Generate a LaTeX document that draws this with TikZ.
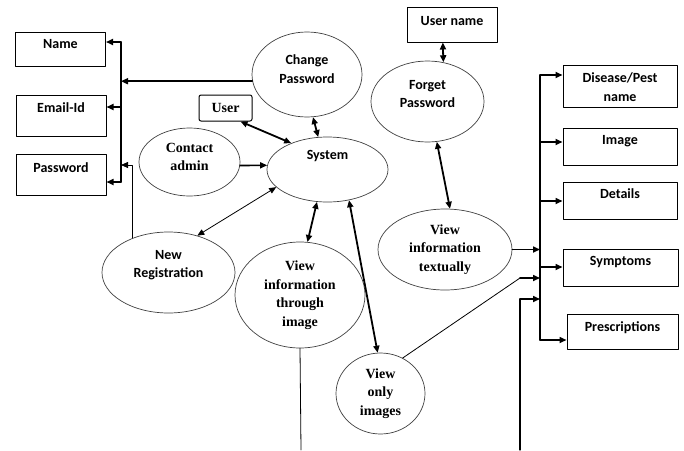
\documentclass[tikz,border=0pt]{standalone}
\usepackage{fontspec}
\usepackage{tikz}
\setmainfont{Liberation Serif}
\setsansfont{Carlito}
\usetikzlibrary{calc}
\usetikzlibrary{arrows.meta}
\usetikzlibrary{positioning}
\usetikzlibrary{shapes.geometric}
\definecolor{edgegray}{rgb}{0.25,0.25,0.25}
\tikzset{
  box/.style={draw,line width=1pt,inner sep=0pt},
  proc/.style={ellipse,draw=edgegray,line width=0.7pt,inner sep=0pt},
  btxt/.style={font=\sffamily\bfseries\fontsize{14}{18.5}\selectfont,inner sep=0pt,align=center},
  stxt/.style={font=\rmfamily\bfseries\fontsize{14}{18.5}\selectfont,inner sep=0pt,align=center},
  wire/.style={line width=0.8pt},
  bus/.style={line width=1.2pt},
  arr/.style={->,line width=1.6pt},
  darr/.style={<->,line width=1.8pt},
  tarr/.style={<->,line width=0.8pt},
}

\begin{document}
\begin{tikzpicture}[line cap=round,line join=round,>={Triangle[length=7pt,width=6pt]},x=1pt,y=-1pt]
            \useasboundingbox (0,0) rectangle (684,450);
            % fields on the left
            \node[box,minimum width=90pt,minimum height=34pt] (name) at (60.5,49) {};
            \node[btxt,below=8pt of name.north] (name-t) {Name};
            \node[box,minimum width=90pt,minimum height=41pt] (email) at (61,115.5) {};
            \node[btxt,below=8pt of email.north] (email-t) {Email-Id};
            \node[box,minimum width=90pt,minimum height=41pt] (pass) at (61,174.5) {};
            \node[btxt,below=9pt of pass.north] (pass-t) {Password};
            \node[box,rounded corners=2pt,minimum width=53pt,minimum height=26pt] (user) at (225.5,108) {};
            \node[stxt] (user-t) at (user) {User};
            \node[box,minimum width=90pt,minimum height=35pt] (uname) at (452,24.5) {};
            \node[btxt,below=10pt of uname.north] (uname-t) {User name};
            % processes
            \node[proc,minimum width=110pt,minimum height=85pt] (chpw) at (307,74.5) {};
            \node[btxt] (chpw-t) at ([yshift=5.5pt]chpw) {Change\\Password};
            \node[proc,minimum width=121pt,minimum height=65pt] (sys) at (327.5,169.5) {};
            \node[btxt] (sys-t) at ([yshift=13pt]sys) {System};
            \node[proc,minimum width=101pt,minimum height=68pt] (contact) at (189.5,162) {};
            \node[stxt] (contact-t) at ([yshift=5pt]contact) {Contact\\admin};
            \node[proc,minimum width=133pt,minimum height=81pt] (newreg) at (168.5,272.5) {};
            \node[btxt] (newreg-t) at ([yshift=7.5pt]newreg) {New\\Registration};
            \node[proc,minimum width=130pt,minimum height=106pt] (vimg) at (300,295) {};
            \node[stxt] (vimg-t) at (vimg) {View\\information\\through\\image};
            \node[proc,minimum width=89pt,minimum height=81pt] (vonly) at (380.5,393.5) {};
            \node[stxt] (vonly-t) at (vonly) {View\\only\\images};
            \node[proc,minimum width=113pt,minimum height=81pt] (fpw) at (427.5,101.5) {};
            \node[btxt] (fpw-t) at ([yshift=7.5pt]fpw) {Forget\\Password};
            \node[proc,minimum width=134pt,minimum height=81pt] (vtext) at (445,249.5) {};
            \node[stxt] (vtext-t) at (vtext) {View\\information\\textually};
            % outputs on the right
            \node[box,minimum width=114pt,minimum height=42pt] (dis) at (620,86) {};
            \node[btxt] (dis-t) at ([yshift=-1pt]dis) {Disease/Pest\\name};
            \node[box,minimum width=114pt,minimum height=37pt] (img) at (620,146.5) {};
            \node[btxt,below=8pt of img.north] (img-t) {Image};
            \node[box,minimum width=114pt,minimum height=37pt] (det) at (620,200.5) {};
            \node[btxt,below=7pt of det.north] (det-t) {Details};
            \node[box,minimum width=115pt,minimum height=37pt] (sym) at (620.5,267.5) {};
            \node[btxt,below=8pt of sym.north] (sym-t) {Symptoms};
            \node[box,minimum width=111pt,minimum height=35pt] (pre) at (622.5,331.5) {};
            \node[btxt,below=8pt of pre.north] (pre-t) {Prescriptions};
            % bus points
            \coordinate (lbus-top) at (121,42);
            \coordinate (lbus-em) at (121,107);
            \coordinate (lbus-nr) at (121,165);
            \coordinate (lbus-bot) at (121,182);
            \coordinate (rbus-top) at (540,75);
            \coordinate (rbus-img) at (540,142);
            \coordinate (rbus-det) at (540,201);
            \coordinate (rbus-sym) at (540,267);
            \coordinate (rbus-bot) at (540,340);
            \coordinate (rbus-vo) at (540,278);
            \coordinate (vo-bend) at (520,278);
            \coordinate (rbus-ib) at (540,299);
            \coordinate (ib-bend) at (520,299);
            \coordinate (ib-in) at (520,450);
            \coordinate (vimg-out) at (301,450);
            % left bus
            \draw[bus] (lbus-top) -- (lbus-bot);
            \draw[arr] (lbus-top) -- (lbus-top -| name.east);
            \draw[arr] (lbus-em) -- (lbus-em -| email.east);
            \draw[arr] (lbus-bot) -- (lbus-bot -| pass.east);
            \draw[arr] (chpw.187) -- (chpw.187 -| lbus-top);
            \draw[wire,->] (newreg.136) |- (lbus-nr);
            % around the system
            \draw[darr] (user.-42) -- (sys.144);
            \draw[darr] (chpw.-82) -- (sys.106);
            \draw[arr] (contact.-4) -- (sys.176);
            \draw[tarr] (newreg.52) -- (sys.199);
            \draw[darr] (vimg.82) -- (sys.252);
            \draw[darr] (vonly.94) -- (sys.-55);
            \draw[darr] (uname.-117) -- (fpw.68);
            \draw[darr] (fpw.-77) -- (vtext.83);
            \draw[wire] (vimg.south) -- (vimg-out);
            % right bus
            \draw[bus] (rbus-top) -- (rbus-bot);
            \draw[arr] (rbus-top) -- (rbus-top -| dis.west);
            \draw[arr] (rbus-img) -- (rbus-img -| img.west);
            \draw[arr] (rbus-det) -- (rbus-det -| det.west);
            \draw[arr] (rbus-sym) -- (rbus-sym -| sym.west);
            \draw[arr] (rbus-bot) -- (rbus-bot -| pre.west);
            \draw[arr] (vtext.east) -- (vtext.east -| rbus-top);
            \draw[wire] (vonly.58) -- (vo-bend);
            \draw[arr] (vo-bend) -- (rbus-vo);
            \draw[bus] (ib-in) -- (ib-bend);
            \draw[arr] (ib-bend) -- (rbus-ib);
\end{tikzpicture}
\end{document}
